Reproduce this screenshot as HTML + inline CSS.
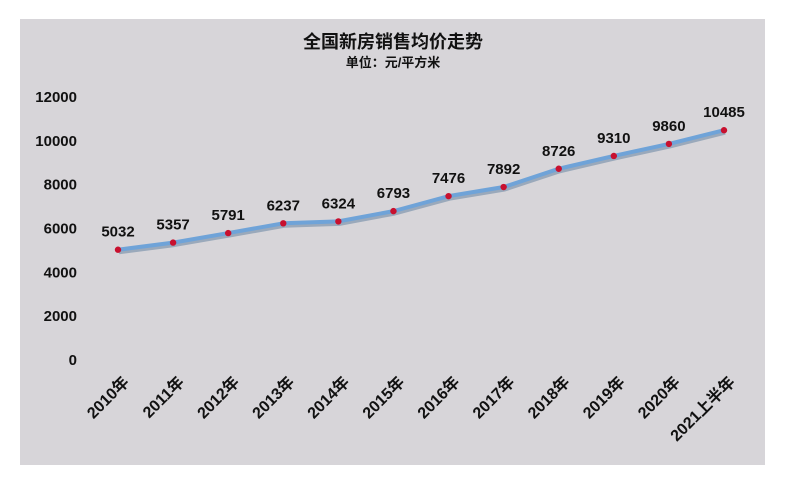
<!DOCTYPE html>
<html><head><meta charset="utf-8"><style>
body{margin:0;background:#fff;width:786px;height:489px;overflow:hidden}
svg{display:block}
text{font-family:"Liberation Sans","Noto Sans CJK SC",sans-serif;font-weight:bold;fill:#111}
</style></head><body>
<svg width="786" height="489">
<rect x="20" y="19" width="745" height="446" fill="#d7d5d9"/>
<text x="393" y="48" font-size="18" text-anchor="middle">全国新房销售均价走势</text>
<text x="393" y="67" font-size="13" text-anchor="middle">单位：元/平方米</text>
<g id="yaxis"></g><g id="xaxis"></g><g id="series"></g>
</svg>
<script>
const categories=["2010年","2011年","2012年","2013年","2014年","2015年","2016年","2017年","2018年","2019年","2020年","2021上半年"];
const values=[5032,5357,5791,6237,6324,6793,7476,7892,8726,9310,9860,10485];
const yTicks=[0,2000,4000,6000,8000,10000,12000];
const NS="http://www.w3.org/2000/svg";
function y(v){return 360-v*(263/12000);}
function x(i){return 118+i*(606/11);}
function el(t,a,p,txt){const e=document.createElementNS(NS,t);for(const k in a)e.setAttribute(k,a[k]);if(txt!=null)e.textContent=txt;p.appendChild(e);return e;}
const ya=document.getElementById('yaxis'),xa=document.getElementById('xaxis'),s=document.getElementById('series');
yTicks.forEach(v=>{const t=el('text',{x:77,y:y(v)+5,'font-size':15,'text-anchor':'end'},ya,v);

});
categories.forEach((c,i)=>{const t=el('text',{x:0,y:0,'font-size':16,'text-anchor':'end',transform:`translate(${x(i)+12},${383}) rotate(-45)`},xa,c);

});
const pts=values.map((v,i)=>x(i)+','+y(v)).join(' ');
const sh=el('polyline',{points:pts,fill:'none',stroke:'#9aa9bb',"stroke-width":5,transform:'translate(1,2)','stroke-linejoin':'round'},s);


const ln=el('polyline',{points:pts,fill:'none',stroke:'#6fa3d8',"stroke-width":4,'stroke-linejoin':'round'},s);


values.forEach((v,i)=>{const c=el('circle',{cx:x(i),cy:y(v),r:3.2,fill:'#c8102e'},s);


const t=el('text',{x:x(i),y:y(v)-13,'font-size':15,'text-anchor':'middle'},s,v);

});
</script>
</body></html>
